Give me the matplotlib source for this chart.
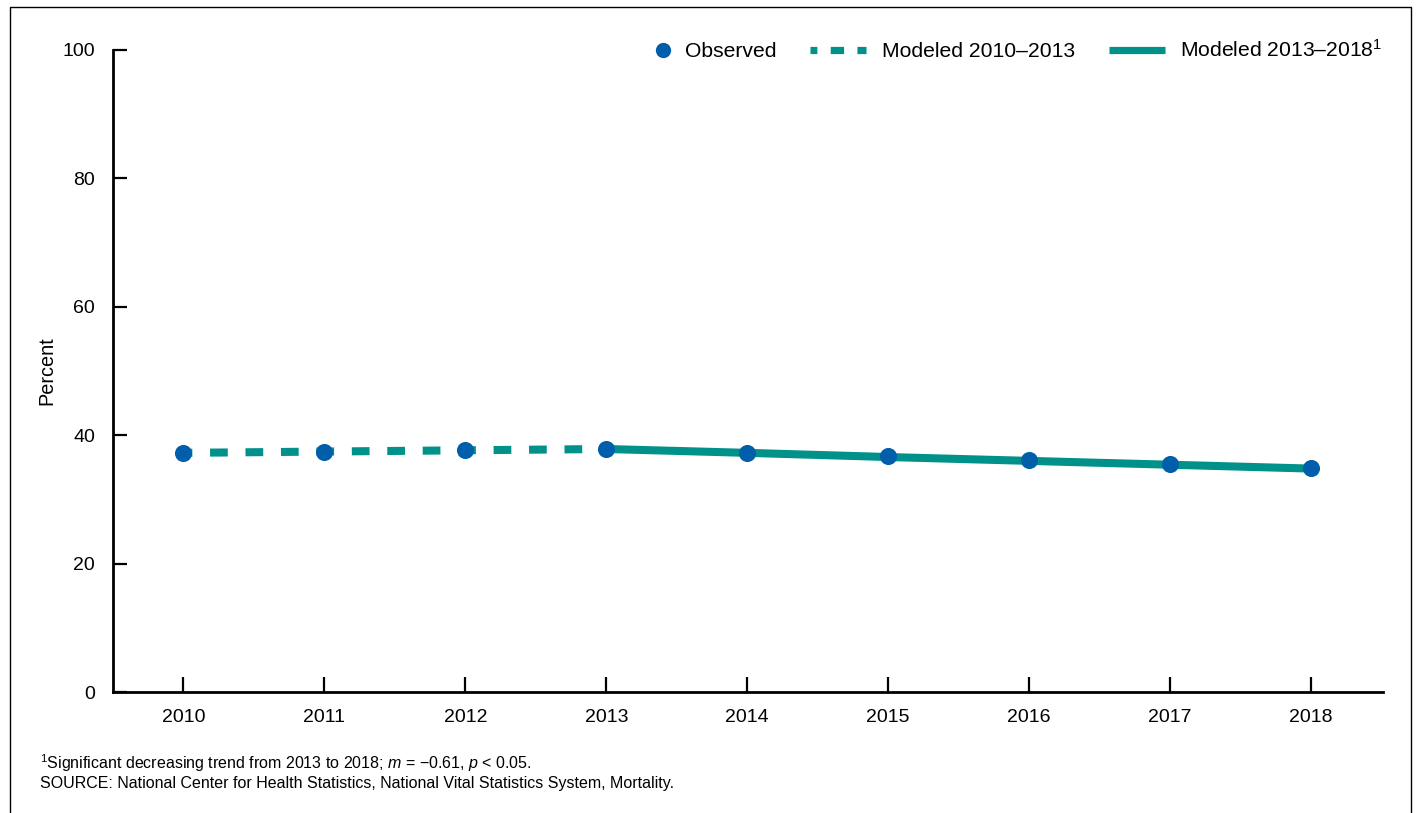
import matplotlib
matplotlib.use("Agg")
import matplotlib.pyplot as plt
from matplotlib.lines import Line2D
from matplotlib.legend_handler import HandlerLine2D

plt.rcParams['font.family'] = ['Liberation Sans', 'DejaVu Sans']
plt.rcParams['mathtext.fontset'] = 'custom'
plt.rcParams['mathtext.rm'] = 'Liberation Sans'
plt.rcParams['mathtext.it'] = 'Liberation Sans:italic'

years = [2010, 2011, 2012, 2013, 2014, 2015, 2016, 2017, 2018]
observed = [37.3, 37.4, 37.65, 37.9, 37.3, 36.75, 36.1, 35.5, 34.85]

years_a = [2010, 2011, 2012, 2013]
modeled_a = [37.25, 37.45, 37.65, 37.85]
years_b = [2013, 2014, 2015, 2016, 2017, 2018]
modeled_b = [37.85, 37.25, 36.6, 36.0, 35.4, 34.8]

yticks = [0, 20, 40, 60, 80, 100]

blue = '#005EAA'
teal = '#00918A'


class MarkerRight(HandlerLine2D):
    # put the legend dot at the right end of the handle, next to the text
    def get_xdata(self, legend, xdescent, ydescent, width, height, fontsize):
        m = -xdescent + width - 4
        return [m - 1, m + 1], [m]


fig = plt.figure(figsize=(14.2, 8.13), dpi=100)
ax = fig.add_axes([113 / 1420, 1 - 692 / 813, (1383 - 113) / 1420, (692 - 50) / 813])

ax.plot(years_a, modeled_a, color=teal, lw=5.8, linestyle=(1.1, (2.2, 2.2)),
        dash_capstyle='butt', zorder=2)
ax.plot(years_b, modeled_b, color=teal, lw=5.8, solid_capstyle='butt', zorder=2)
ax.plot(years, observed, 'o', color=blue, markersize=12.3, markeredgewidth=0, zorder=3)

ax.set_xlim(2009.5, 2018.51)
ax.set_ylim(0, 100)
ax.set_xticks(years)
ax.set_yticks(yticks)
ax.tick_params(axis='x', direction='in', length=11, width=1.6, labelsize=14, pad=12)
ax.tick_params(axis='y', direction='in', length=10, width=1.6, labelsize=14, pad=13)
for s in ['top', 'right']:
    ax.spines[s].set_visible(False)
ax.spines['left'].set_linewidth(2)
ax.spines['bottom'].set_linewidth(2)
ax.set_ylabel('Percent', fontsize=14.3, labelpad=4)

obs_handle = Line2D([], [], marker='o', color=blue, linestyle='none', markersize=11, markeredgewidth=0)
handles = [
    obs_handle,
    Line2D([], [], color=teal, lw=5.2, linestyle=(0.9, (1.85, 1.85)), dash_capstyle='butt'),
    Line2D([], [], color=teal, lw=5.2, solid_capstyle='butt'),
]
labels = ['Observed', 'Modeled 2010\u20132013', 'Modeled 2013\u20132018$^{1}$']
ax.legend(handles, labels, loc='center right', bbox_to_anchor=(1.0065, 1.0), ncol=3,
          frameon=False, fontsize=15.2, handlelength=2.65, columnspacing=1.6,
          handletextpad=0.75, borderaxespad=0,
          handler_map={obs_handle: MarkerRight(numpoints=1)})

fig.text(40 / 1420, 1 - 763 / 813,
         '$^{1}$Significant decreasing trend from 2013 to 2018; $m$ = \u22120.61, $p$ < 0.05.',
         fontsize=11.5, va='center')
fig.text(40 / 1420, 1 - 783 / 813,
         'SOURCE: National Center for Health Statistics, National Vital Statistics System, Mortality.',
         fontsize=11.5, va='center')

# frame around the figure (no bottom edge)
x0, x1, yt = 10 / 1420, 1411 / 1420, 1 - 7 / 813
fig.add_artist(Line2D([x0, x0, x1, x1], [0, yt, yt, 0], color='black', lw=1,
                      transform=fig.transFigure))

fig.savefig('out.png', dpi=100)
